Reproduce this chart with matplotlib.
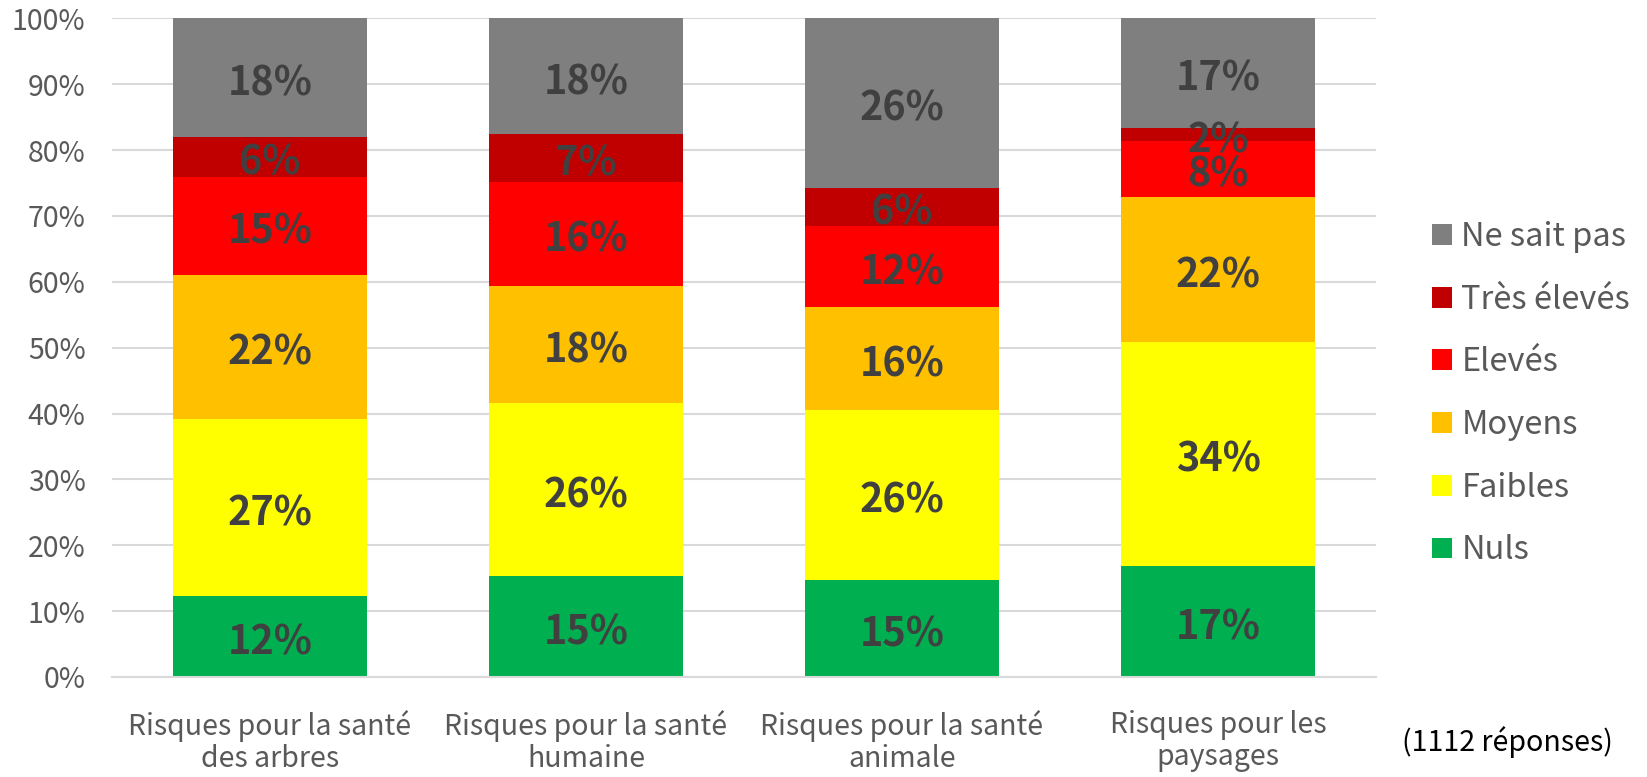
import matplotlib
matplotlib.use("Agg")
import matplotlib.pyplot as plt
import numpy as np
from matplotlib.ticker import FuncFormatter

plt.rcParams['font.family'] = ['Noto Sans CJK SC', 'DejaVu Sans']

categories = ["Risques pour la santé\ndes arbres", "Risques pour la santé\nhumaine",
              "Risques pour la santé\nanimale", "Risques pour les\npaysages"]
series_names = ["Nuls", "Faibles", "Moyens", "Elevés", "Très élevés", "Ne sait pas"]
nuls = [12.3, 15.4, 14.8, 16.9]
faibles = [26.8, 26.2, 25.7, 34.0]
moyens = [22.0, 17.8, 15.6, 22.0]
eleves = [14.8, 15.8, 12.3, 8.4]
tres_eleves = [6.1, 7.2, 5.9, 2.1]
ne_sait_pas = [18.0, 17.6, 25.7, 16.6]
colors = ["#00B050", "#FFFF00", "#FFC000", "#FF0000", "#C00000", "#7F7F7F"]

series = [nuls, faibles, moyens, eleves, tres_eleves, ne_sait_pas]

fig = plt.figure(figsize=(16.47, 7.77), dpi=100)
ax = fig.add_axes([112/1647, 1 - 677/777, (1376-112)/1647, (677-18.3)/777])

x = np.arange(len(categories))
bottom = np.zeros(len(categories))
handles = []
for name, vals, col in zip(series_names, series, colors):
    vals = np.array(vals)
    bars = ax.bar(x, vals, 0.614, bottom=bottom, color=col, label=name, zorder=2)
    for rect, v in zip(bars, vals):
        ax.annotate(f"{round(v)}%",
                    (rect.get_x() + rect.get_width() / 2, rect.get_y() + rect.get_height() / 2),
                    xytext=(0, -4.5), textcoords='offset points', ha='center', va='center',
                    color='#404040', fontsize=28.5, fontweight='bold', zorder=3)
    bottom += vals
    handles.append(bars)

ax.set_xlim(-0.5, 3.5)
ax.set_ylim(0, 100)
ax.set_yticks(np.arange(0, 101, 10))
ax.yaxis.set_major_formatter(FuncFormatter(lambda v, p: f"{int(v)}%"))
ax.grid(axis='y', color='#D9D9D9', linewidth=1.5, zorder=0)
ax.set_axisbelow(True)
for s in ['top', 'right', 'left']:
    ax.spines[s].set_visible(False)
ax.spines['bottom'].set_color('#D9D9D9')
ax.spines['bottom'].set_linewidth(1.5)
ax.tick_params(axis='both', length=0, colors='#595959')
ax.tick_params(axis='y', pad=19, labelsize=20.5)
ax.tick_params(axis='x', pad=23.5)
ax.set_xticks(x)
ax.set_xticklabels(categories, fontsize=20.5, color='#595959', linespacing=1.12)

leg = fig.legend(handles[::-1], series_names[::-1], loc='upper left',
                 bbox_to_anchor=(1432/1647, 1 - 221/777), frameon=False,
                 fontsize=23.5, labelcolor='#595959', handlelength=0.6, handleheight=0.6,
                 handletextpad=0.3, labelspacing=0.94, borderaxespad=0, borderpad=0)

fig.text(1507/1647, 1 - 742/777, "(1112 réponses)", fontsize=20.6, color='#000000',
         ha='center', va='center')

fig.savefig("out.png", dpi=100)
